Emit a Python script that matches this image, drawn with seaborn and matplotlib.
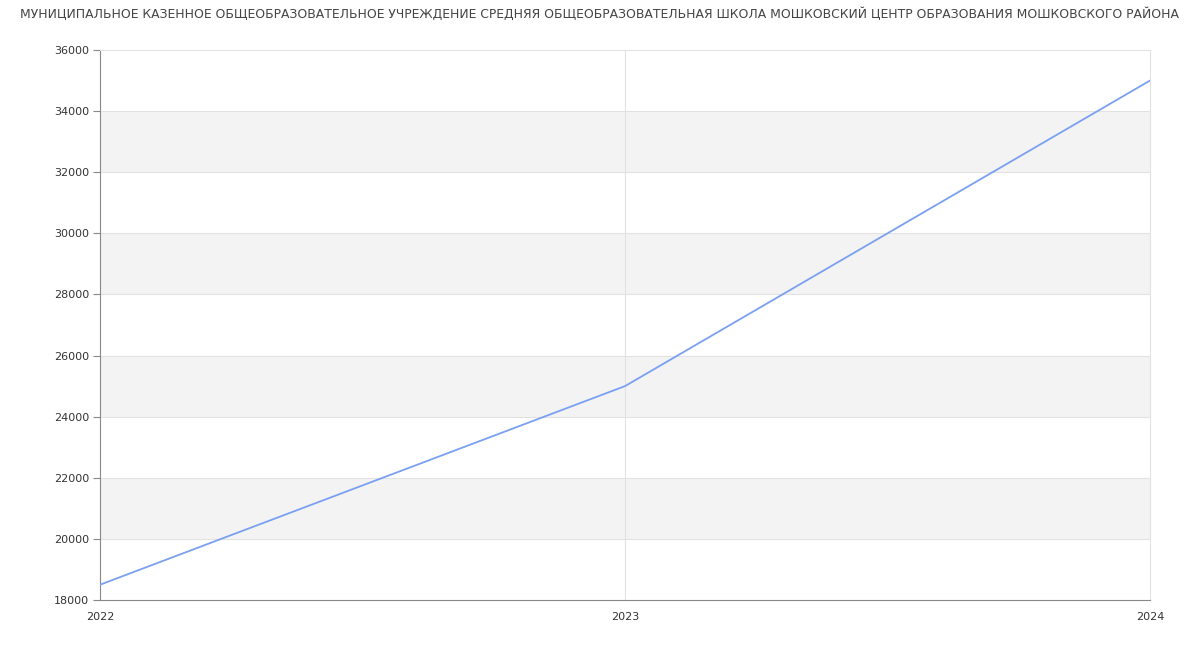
import matplotlib
matplotlib.use("Agg")
import matplotlib.pyplot as plt
import seaborn as sns
import pandas as pd

years = [2022, 2023, 2024]
values = [18500, 25000, 35000]
title = "МУНИЦИПАЛЬНОЕ КАЗЕННОЕ ОБЩЕОБРАЗОВАТЕЛЬНОЕ УЧРЕЖДЕНИЕ СРЕДНЯЯ ОБЩЕОБРАЗОВАТЕЛЬНАЯ ШКОЛА МОШКОВСКИЙ ЦЕНТР ОБРАЗОВАНИЯ МОШКОВСКОГО РАЙОНА"
y_ticks = list(range(18000, 36001, 2000))

sns.set_theme(style="white")
plt.rcParams['font.family'] = ['DejaVu Sans']

df = pd.DataFrame({"year": years, "value": values})

fig = plt.figure(figsize=(12, 6.5), dpi=100)
ax = fig.add_axes([100/1200, 50/650, 1050/1200, 550/650])

# alternating bands
for i, lo in enumerate(y_ticks[:-1]):
    if i % 2 == 1:
        ax.axhspan(lo, lo + 2000, color="#f3f3f3", zorder=0, lw=0)
for t in y_ticks[1:-1]:
    ax.axhline(t, color="#e2e2e2", lw=0.8, zorder=1)
ax.axvline(2023, color="#e2e2e2", lw=0.8, zorder=1)

sns.lineplot(data=df, x="year", y="value", ax=ax, color="#7aa0f2", lw=1.3, zorder=3)

ax.set_xlim(2022, 2024)
ax.set_ylim(18000, 36000)
ax.set_xticks(years)
ax.set_xticklabels([str(y) for y in years])
ax.set_yticks(y_ticks)
ax.set_yticklabels([str(v) for v in y_ticks])
ax.set_xlabel("")
ax.set_ylabel("")
ax.tick_params(axis="y", length=5, width=0.8, color="#888888", labelsize=8, labelcolor="#333333", pad=3, left=True)
ax.tick_params(axis="x", length=0, labelsize=8, labelcolor="#333333", pad=9)

ax.spines["left"].set_color("#888888")
ax.spines["bottom"].set_color("#888888")
ax.spines["top"].set_color("#e2e2e2")
ax.spines["right"].set_color("#e2e2e2")
for s in ax.spines.values():
    s.set_linewidth(0.8)

fig.text(0.5, 1 - 14/650, title, ha="center", va="center", fontsize=8.9, color="#444444")

fig.savefig("out.png", dpi=100)
